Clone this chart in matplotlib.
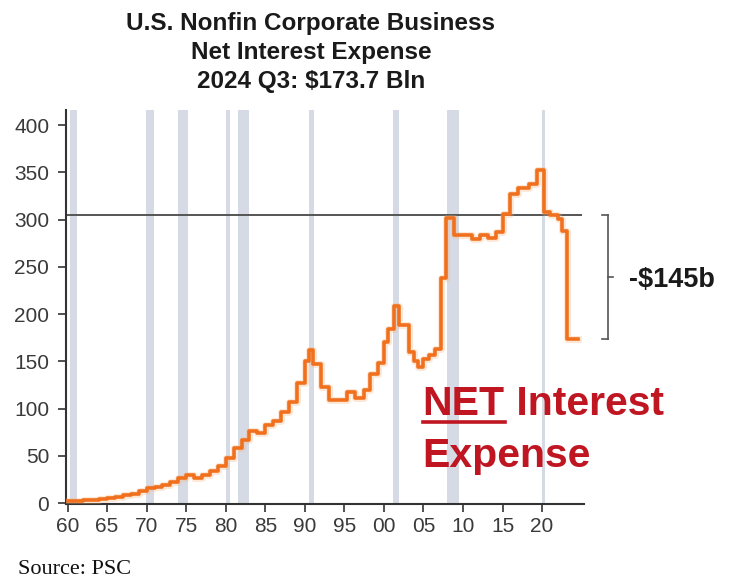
import matplotlib
matplotlib.use('Agg')
import matplotlib.pyplot as plt
from matplotlib.lines import Line2D
from matplotlib.ticker import FuncFormatter

# 净利息支出（十亿美元），按年份（小数年）记录的阶梯数据
years = [1960, 1961, 1962, 1963, 1964, 1965, 1966, 1967, 1968, 1969,
         1970, 1971, 1972, 1973, 1974, 1975, 1976, 1977, 1978, 1979,
         1980, 1981, 1982, 1983, 1984, 1985, 1986, 1987, 1988, 1989,
         1990, 1990.5, 1991, 1992, 1993, 1995.3, 1996.4, 1997.5, 1998.3, 1999.2,
         2000, 2000.5, 2001.3, 2001.9, 2003.2, 2003.8, 2004.3, 2005, 2005.7, 2006.4,
         2007.2, 2007.9, 2008.9, 2010.2, 2011.2, 2012.2, 2013.2, 2014.2, 2015, 2016,
         2017, 2018.3, 2019.3, 2020.2, 2021, 2022, 2022.5, 2023.2, 2024.5]
expense = [2, 2.5, 3, 3.5, 4.5, 5, 6.5, 8, 10, 13,
           16, 17.5, 19, 22, 27, 30, 27, 30, 34, 39,
           48, 58, 67, 76, 74, 83, 87, 96, 107, 127,
           150, 162, 147, 123, 109, 118, 111, 120, 137, 148,
           170, 184, 209, 188, 160, 150, 144, 152, 157, 163,
           238, 302, 284, 284, 279, 284, 280, 287, 306, 327,
           333, 338, 352, 308, 305, 301, 288, 173.7, 173.7]

# NBER 衰退区间
recessions = [(1960.3, 1961.15), (1969.95, 1970.9), (1973.9, 1975.2), (1980.0, 1980.5),
              (1981.55, 1982.9), (1990.55, 1991.2), (2001.2, 2001.9), (2007.95, 2009.5),
              (2020.05, 2020.35)]

peak_level = 305
latest = 173.7
x_ticks = list(range(1960, 2021, 5))
y_ticks = list(range(0, 401, 50))

W, H = 733, 579
fig = plt.figure(figsize=(W / 100, H / 100), dpi=100)
ax = fig.add_axes([66 / W, 75 / H, 518 / W, 394 / H])

for a, b in recessions:
    ax.axvspan(a, b, color='#d6dae4', lw=0, zorder=0)

ax.hlines(peak_level, 1959.8, 2025.0, color='#555555', lw=1.4, zorder=2)

# 橙色曲线加一层浅色光晕
ax.plot(years, expense, drawstyle='steps-post', color='#f9b47c', lw=5, alpha=0.3,
        zorder=3)
ax.plot(years, expense, drawstyle='steps-post', color='#f0701e', lw=2.6, zorder=4)

ax.set_xlim(1959.8, 2025.3)
ax.set_ylim(-1, 416)
ax.set_xticks(x_ticks)
ax.set_yticks(y_ticks)
ax.xaxis.set_major_formatter(FuncFormatter(lambda v, p: '%02d' % (int(v) % 100)))

for s in ['top', 'right']:
    ax.spines[s].set_visible(False)
for s in ['left', 'bottom']:
    ax.spines[s].set_color('#333333')
    ax.spines[s].set_linewidth(1.5)
ax.tick_params(direction='out', length=6, width=1.2, color='#333333',
               labelsize=15, labelcolor='#3a3a3a')
ax.tick_params(axis='y', pad=6)
ax.tick_params(axis='x', pad=3)
for lab in ax.get_xticklabels() + ax.get_yticklabels():
    lab.set_family('Liberation Sans')

# 标题
title_lines = ['U.S. Nonfin Corporate Business', 'Net Interest Expense', '2024 Q3: $173.7 Bln']
for i, line in enumerate(title_lines):
    fig.text(311 / W, 1 - (30 + 29 * i) / H, line, ha='center', va='baseline',
             fontsize=17.5, fontweight='bold', family='Liberation Sans', color='#1a1a1a')

# 右侧括号及差值标注
bx = 2028.3
kw = dict(color='#555555', lw=1.2, clip_on=False, zorder=5)
ax.plot([bx, bx], [latest, peak_level], **kw)
ax.plot([bx - 0.7, bx], [peak_level, peak_level], **kw)
ax.plot([bx - 0.7, bx], [latest, latest], **kw)
ax.plot([bx, bx + 0.7], [(peak_level + latest) / 2] * 2, **kw)
fig.text(629 / W, 1 - 280 / H, '-$145b', ha='left', va='center',
         fontsize=19.5, fontweight='bold', family='Liberation Sans', color='#1a1a1a')

# 红色说明文字，NET 加下划线
red = '#bf1622'
t_net = ax.text(2004.9, 93, 'NET', ha='left', va='baseline', fontsize=29.5,
                fontweight='bold', family='Liberation Sans', color=red, zorder=6)
ax.annotate(' Interest', xy=(1, 0), xycoords=t_net, ha='left', va='bottom',
            fontsize=29.5, fontweight='bold', family='Liberation Sans', color=red, zorder=6)
ax.text(2004.9, 38, 'Expense', ha='left', va='baseline', fontsize=29.5,
        fontweight='bold', family='Liberation Sans', color=red, zorder=6)

fig.text(18 / W, 1 - 574 / H, 'Source: PSC', ha='left', va='baseline',
         fontsize=16, family='Liberation Serif', color='#111111')

fig.canvas.draw()
bb = t_net.get_window_extent()
base_y = ax.transData.transform((2004.9, 93))[1]
fig.add_artist(Line2D([bb.x0, bb.x1], [base_y - 6.5, base_y - 6.5],
                      transform=None, color=red, lw=2.6))

fig.savefig('out.png', dpi=100)
